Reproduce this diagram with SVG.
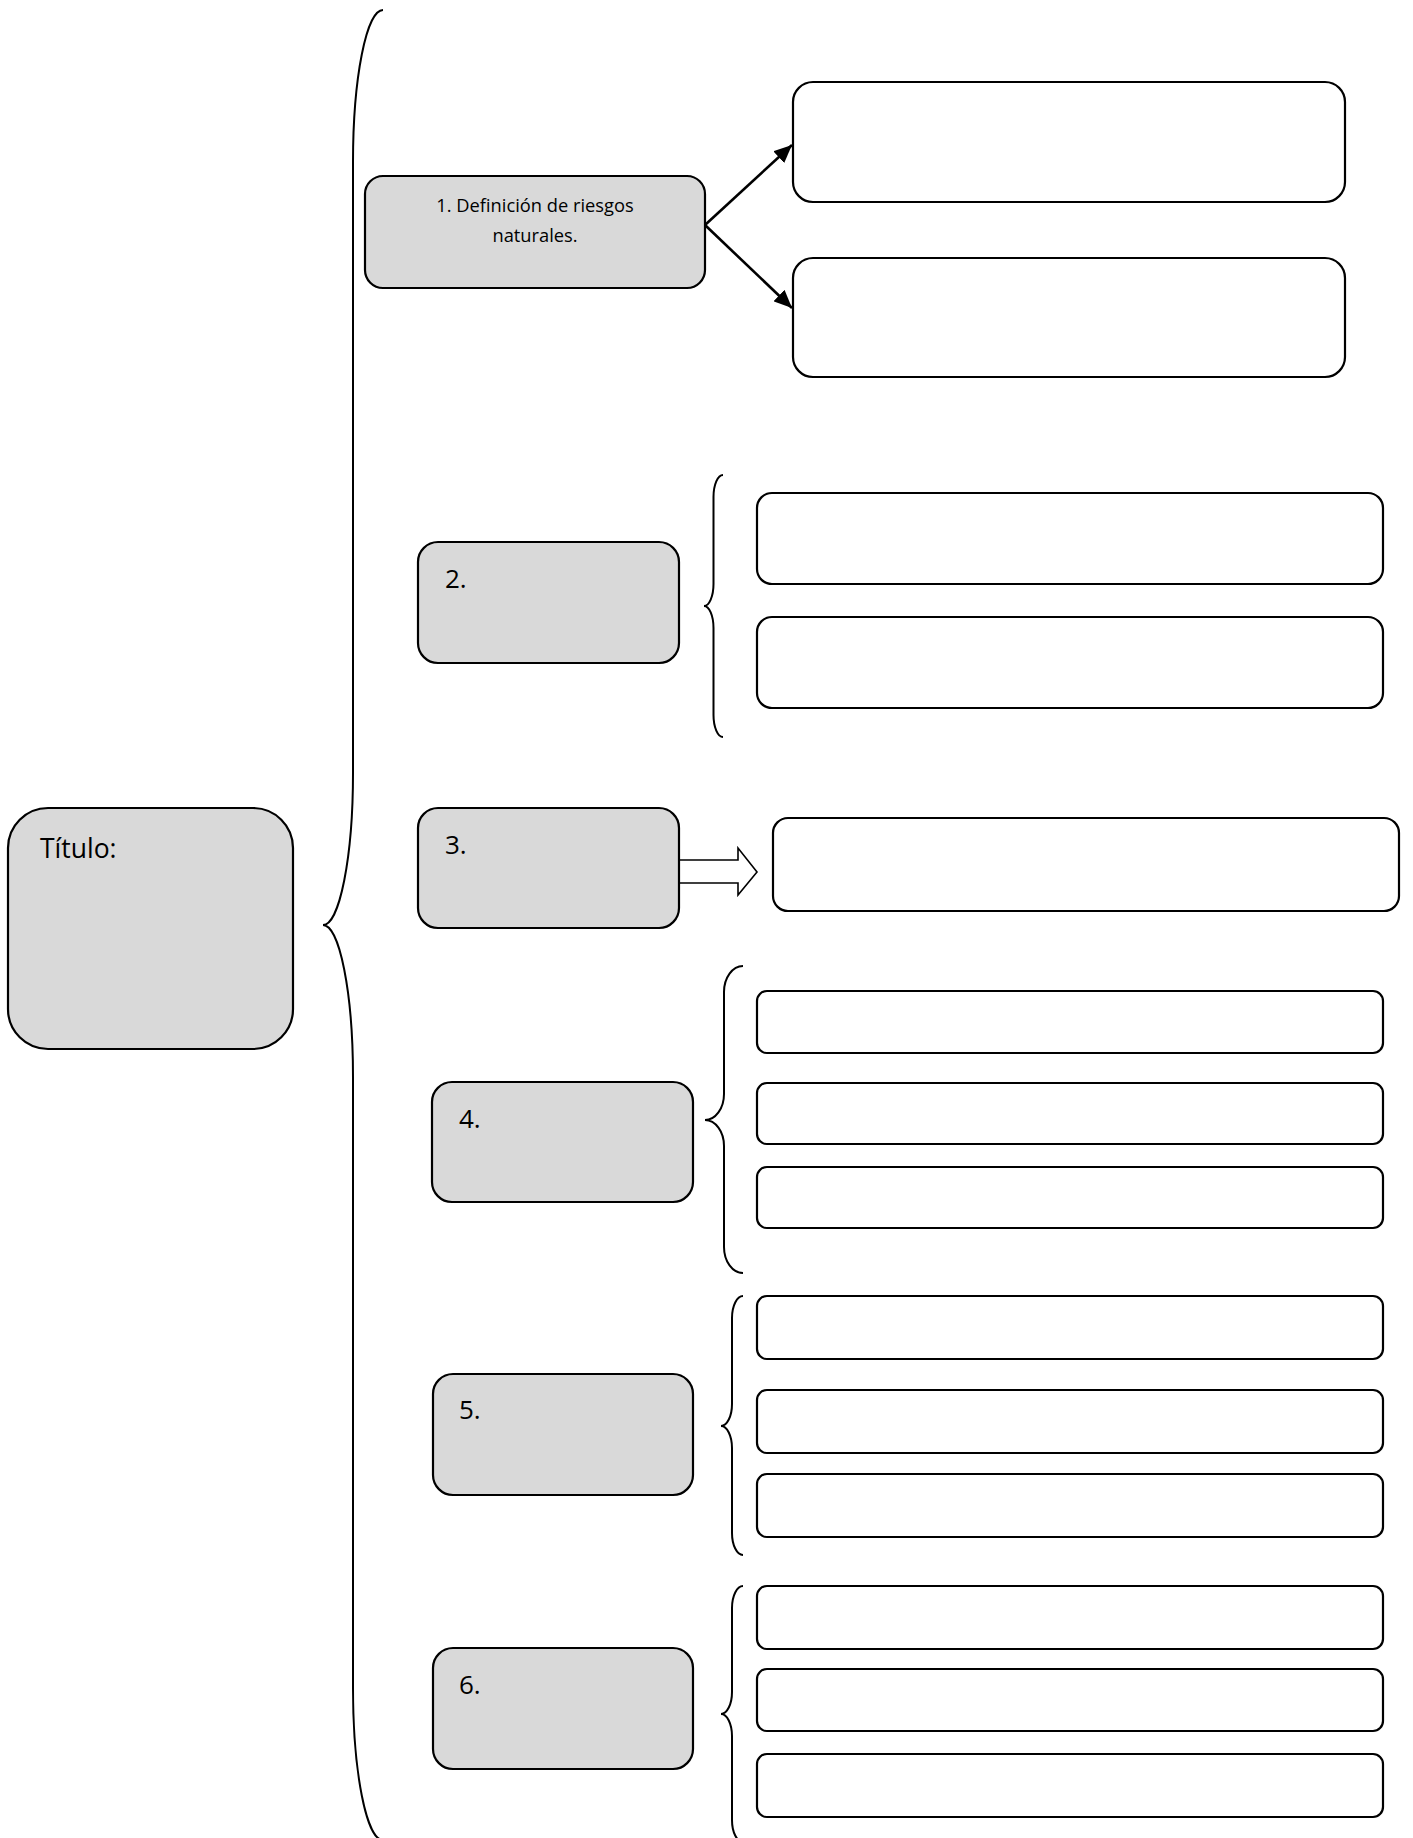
<svg xmlns="http://www.w3.org/2000/svg" width="1413" height="1838" viewBox="0 0 1413 1838">
<style>
.g{fill:#d9d9d9;stroke:#000;stroke-width:2.2}
.w{fill:#fff;stroke:#000;stroke-width:2.2}
.br{fill:none;stroke:#000;stroke-width:2}
.t{font-family:"Open Sans","Noto Sans",sans-serif;fill:#000}
.ln{fill:none;stroke:#000;stroke-width:2.6}
</style>
<defs>
<marker id="ah" markerUnits="userSpaceOnUse" markerWidth="20" markerHeight="16" refX="18" refY="8" orient="auto">
<path d="M0,0 L18,8 L0,16 Z" fill="#000"/>
</marker>
</defs>
<rect width="1413" height="1838" fill="#fff"/>

<g id="braces">
<path class="br" d="M383,10 A30,152 0 0 0 353,162 L353,773 A30,152 0 0 1 323,925 A30,152 0 0 1 353,1077 L353,1688 A30,152 0 0 0 383,1840"/>
<path class="br" d="M723,475 A9.5,22 0 0 0 713.5,497 L713.5,584 A9.5,22 0 0 1 704,606 A9.5,22 0 0 1 713.5,628 L713.5,715 A9.5,22 0 0 0 723,737"/>
<path class="br" d="M743,966 A19,26 0 0 0 724,992 L724,1094 A19,26 0 0 1 705,1120 A19,26 0 0 1 724,1146 L724,1247 A19,26 0 0 0 743,1273"/>
<path class="br" d="M743,1296 A11,22 0 0 0 732,1318 L732,1404 A11,22 0 0 1 721,1426 A11,22 0 0 1 732,1448 L732,1533 A11,22 0 0 0 743,1555"/>
<path class="br" d="M743,1586 A11,22 0 0 0 732,1608 L732,1692 A11,22 0 0 1 721,1714 A11,22 0 0 1 732,1736 L732,1820 A11,22 0 0 0 743,1842"/>
</g>

<g id="connectors">
<line class="ln" x1="705" y1="225" x2="792" y2="145" marker-end="url(#ah)"/>
<line class="ln" x1="705" y1="225" x2="792" y2="308" marker-end="url(#ah)"/>
<polygon points="679,860 738,860 738,848 757,872 738,895 738,883 679,883" fill="#fff" stroke="#000" stroke-width="1.6"/>
</g>

<g id="titulo">
<rect class="g" x="8" y="808" width="285" height="241" rx="40" ry="40"/>
<text class="t" x="40" y="858" font-size="26.5">Título:</text>
</g>

<g id="n1">
<rect class="g" x="365" y="176" width="340" height="112" rx="18" ry="18"/>
<text class="t" x="535" y="212" font-size="18.3" text-anchor="middle">1. Definición de riesgos</text>
<text class="t" x="535" y="242" font-size="18.3" text-anchor="middle">naturales.</text>
</g>
<g id="n1a"><rect class="w" x="793" y="82" width="552" height="120" rx="20" ry="20"/></g>
<g id="n1b"><rect class="w" x="793" y="258" width="552" height="119" rx="20" ry="20"/></g>

<g id="n2">
<rect class="g" x="418" y="542" width="261" height="121" rx="20" ry="20"/>
<text class="t" x="445" y="588" font-size="26">2.</text>
</g>
<g id="n2a"><rect class="w" x="757" y="493" width="626" height="91" rx="15" ry="15"/></g>
<g id="n2b"><rect class="w" x="757" y="617" width="626" height="91" rx="15" ry="15"/></g>

<g id="n3">
<rect class="g" x="418" y="808" width="261" height="120" rx="20" ry="20"/>
<text class="t" x="445" y="854" font-size="26">3.</text>
</g>
<g id="n3a"><rect class="w" x="773" y="818" width="626" height="93" rx="15" ry="15"/></g>

<g id="n4">
<rect class="g" x="432" y="1082" width="261" height="120" rx="20" ry="20"/>
<text class="t" x="459" y="1128" font-size="26">4.</text>
</g>
<g id="n4a"><rect class="w" x="757" y="991" width="626" height="62" rx="10" ry="10"/></g>
<g id="n4b"><rect class="w" x="757" y="1083" width="626" height="61" rx="10" ry="10"/></g>
<g id="n4c"><rect class="w" x="757" y="1167" width="626" height="61" rx="10" ry="10"/></g>

<g id="n5">
<rect class="g" x="433" y="1374" width="260" height="121" rx="20" ry="20"/>
<text class="t" x="459" y="1419" font-size="26">5.</text>
</g>
<g id="n5a"><rect class="w" x="757" y="1296" width="626" height="63" rx="10" ry="10"/></g>
<g id="n5b"><rect class="w" x="757" y="1390" width="626" height="63" rx="10" ry="10"/></g>
<g id="n5c"><rect class="w" x="757" y="1474" width="626" height="63" rx="10" ry="10"/></g>

<g id="n6">
<rect class="g" x="433" y="1648" width="260" height="121" rx="20" ry="20"/>
<text class="t" x="459" y="1694" font-size="26">6.</text>
</g>
<g id="n6a"><rect class="w" x="757" y="1586" width="626" height="63" rx="10" ry="10"/></g>
<g id="n6b"><rect class="w" x="757" y="1669" width="626" height="62" rx="10" ry="10"/></g>
<g id="n6c"><rect class="w" x="757" y="1754" width="626" height="63" rx="10" ry="10"/></g>
</svg>
